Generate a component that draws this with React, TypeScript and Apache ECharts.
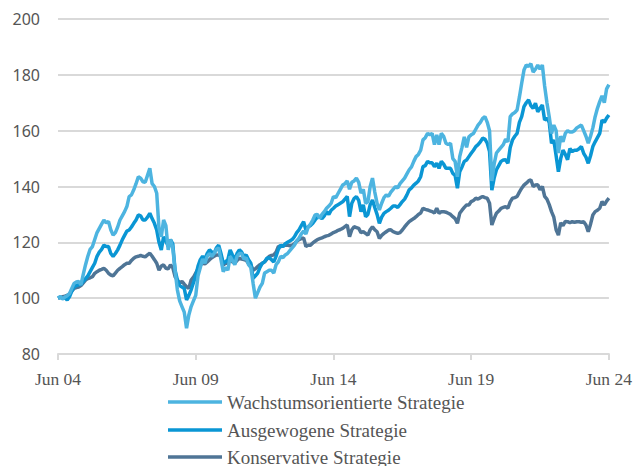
import React, { useEffect, useRef } from "react";
import * as echarts from "echarts";

// Monthly observations, Jun 2004 .. Jun 2024
const startYear = 2004;
const startMonth = 6;
const monthCount = 241;

const seriesNames = [
  "Wachstumsorientierte Strategie",
  "Ausgewogene Strategie",
  "Konservative Strategie",
];

const xTickLabels = ["Jun 04", "Jun 09", "Jun 14", "Jun 19", "Jun 24"];

const growth = [
  100, 100.6, 99.8, 100.4, 100.9, 101.6, 103.5,
  105.3, 105.8, 106, 104.8, 108.5, 112, 115, 117.5, 118.5, 121, 123.5, 125,
  126.5, 128, 127, 127.5, 124.5, 122.6, 123.5, 125.5, 128, 129.5, 131, 132.8,
  136.4, 137, 138.8, 141, 143.5, 143, 141.7, 141.5, 144, 146.5, 141, 140,
  137.6, 125, 122, 128, 126, 117.3, 121, 118, 110, 103, 99, 97,
  95, 89.2, 94, 97, 99, 101, 108, 111, 114, 112.5, 115, 116,
  115, 116, 117.5, 118, 113.8, 109.5, 111, 110, 115, 113.5, 112, 115,
  116, 116, 114, 114.5, 112, 111, 105.3, 100, 102, 104, 105.3, 109,
  109.5, 110, 110, 109, 112, 113, 115, 114.5, 115.5, 116, 117, 118,
  119, 120.5, 121.5, 123, 124, 123, 125.5, 126.5, 128, 129.8, 130, 128.6,
  130, 131, 132.2, 133, 134, 136.4, 136, 137.5, 139, 140.5, 141, 142,
  139, 141.5, 142, 143, 141.5, 137.6, 139, 134, 134.5, 140, 143, 138,
  134, 131.6, 134, 136, 137, 136.5, 138, 139, 140, 139.5, 141, 142,
  143, 144.5, 146, 147, 149, 150.7, 151.5, 153, 156.7, 157.5, 159, 158.5,
  159, 155, 158.5, 155, 159, 158, 155.5, 155, 155.5, 150, 149, 143.5,
  150.7, 154, 157.8, 154, 157.8, 158.5, 159, 160.5, 162, 163, 164.4, 165,
  163, 160, 142, 148, 152, 153, 154, 155, 157, 156, 165, 166,
  166.5, 167.4, 172, 177, 181.7, 183.5, 183, 184, 181, 182, 183.5, 182,
  183.5, 176, 170, 165, 159, 162, 160, 152, 158, 156, 159, 160,
  159.5, 159.5, 160, 161, 161.5, 162, 160, 158, 155.5, 158, 161, 165,
  168, 170.4, 172.5, 170, 175, 176.5,
];

const balanced = [
  100, 100.3, 99.8, 100.2, 99.3, 100.5, 102.5,
  104, 104.5, 104.8, 105, 106, 107, 108, 109.5, 111, 112.5, 115, 116.5,
  117.5, 119, 118.5, 118.5, 116, 115, 116, 117.3, 119, 120.9, 122.5, 124,
  124.4, 125.5, 126.8, 128, 129.8, 129.5, 128, 128, 129, 130.4, 128.5, 126.8,
  124.4, 120, 117.3, 122, 120.5, 118.6, 121, 119.5, 110, 106.5, 104.5, 104,
  103.5, 99.4, 101, 103, 105.5, 108, 111.5, 113.8, 115, 114, 116, 117.3,
  116.5, 116, 118, 119, 116, 112.5, 113, 113.8, 117.3, 115.5, 113.8, 116,
  117.3, 116.5, 115, 115.5, 113.8, 112.5, 107.1, 108, 109, 111, 112.5, 113,
  114.3, 114.5, 113.8, 113, 115, 117.5, 119, 118.5, 119.5, 120, 120.5, 121,
  122, 123.5, 124.5, 126, 127.4, 124.4, 125.5, 126, 126.8, 128, 129, 129.2,
  128.5, 129.5, 131, 130, 131.5, 132.2, 133, 133.5, 134, 134.5, 135.5, 136.4,
  129.2, 134, 135.7, 136.4, 135, 131, 133.4, 129.2, 130, 133.5, 135.2, 132.5,
  130, 126.8, 129, 130.4, 131, 131.5, 132.2, 133, 133, 132.5, 133.5, 134.6,
  135.5, 137, 138.8, 139.5, 140.5, 141.2, 142, 143.5, 147.1, 147.5, 149, 148.5,
  148.5, 147.1, 148.3, 146.5, 149, 148, 146.5, 146.5, 146.5, 144.7, 144, 139.4,
  145.3, 147, 149, 149.5, 150.7, 151.9, 153, 154.3, 155, 156, 157.3, 157,
  155.5, 152.5, 138.7, 143, 146, 147.5, 149, 149.5, 149.6, 148.3, 154, 156.7,
  158, 159, 163, 165, 168.6, 170, 171, 169, 168, 169.8, 166.8, 168,
  169.2, 163.8, 164.5, 163, 155.5, 156.7, 151, 145.3, 150, 153, 151.5, 149.6,
  153.6, 152.5, 153, 153, 153.5, 154.3, 151.9, 150.5, 148.3, 151, 154.3, 156,
  157.5, 159, 163.8, 163, 164.5, 165.6,
];

const conservative = [
  100, 100.3, 100.5, 100.7, 101, 101.5, 102.5,
  103.5, 103.8, 104, 104.5, 105.5, 106.5, 107, 107.3, 107.7, 108.9, 109.5, 110,
  110.3, 110.7, 110, 108.9, 108.3, 108, 109, 110, 110.7, 111.3, 112, 112.5,
  112.5, 113.5, 114.3, 114.8, 115, 115.3, 115, 114.8, 115.5, 116.1, 115, 113.8,
  112.5, 110, 111.5, 111.9, 110.7, 110.5, 111.9, 111, 107.7, 106.5, 105.5, 106,
  105, 104.1, 103.5, 106.5, 107.5, 109, 110.5, 111.9, 112.5, 112.3, 113, 113.8,
  114.5, 115, 115.5, 115.5, 115, 111.9, 112.5, 112.5, 113.8, 113, 112.5, 113.5,
  114.3, 114, 113.8, 113.5, 112.5, 112, 110, 110.5, 111.3, 112, 112.5, 113,
  114, 115, 115.3, 115.5, 116.5, 118.5, 118.5, 118.7, 119, 119, 118.8, 119,
  119.5, 120.4, 121, 121.3, 121.6, 118.5, 119, 119, 119.8, 120.4, 121, 121.3,
  121.6, 122, 122.3, 122.5, 123, 123.5, 123.8, 124.3, 124.6, 125, 125.6, 126.2,
  122, 124.5, 125.6, 125.3, 125, 123.5, 123.8, 123.2, 122.6, 124.5, 125.6, 124.5,
  123.8, 121.4, 122.5, 123.2, 123.8, 124.4, 124.5, 123.8, 123.5, 123.2, 123.5, 124.4,
  125.5, 126.5, 127.4, 128, 128.5, 129.2, 130, 130.5, 132.2, 131.8, 131.6, 131.3,
  131, 130.5, 132.2, 130.4, 131, 131, 130.8, 130.4, 130, 129.2, 128.5, 126.8,
  130.4, 131.5, 132.5, 133.4, 133.4, 134.6, 135, 135.8, 135.5, 136, 136.4, 136,
  135.8, 134, 126.2, 128.5, 130.4, 131.2, 132.2, 132.5, 132.8, 132.2, 134.5, 135.8,
  136, 136.4, 138, 139.4, 140.5, 141.2, 142, 142.4, 140, 140.5, 140.6, 138.8,
  140, 136.5, 135.5, 133.5, 131, 129, 124.5, 122.6, 127, 126, 127.5, 127.4,
  127, 127.4, 127.2, 127.4, 127.4, 127.2, 127.4, 126.2, 123.8, 126.5, 129.8, 131,
  131.5, 132.2, 134.6, 133.4, 134.8, 135.8,
];

const colors = ["#4db4e0", "#0a96d4", "#4f7596"];

const monthNames = ["Jan", "Feb", "Mar", "Apr", "May", "Jun", "Jul", "Aug", "Sep", "Oct", "Nov", "Dec"];

export default function App() {
  const ref = useRef<HTMLDivElement>(null);
  useEffect(() => {
    if (!ref.current) return;
    const chart = echarts.init(ref.current, undefined, { renderer: "svg" });
    const categories: string[] = [];
    for (let i = 0; i < monthCount; i++) {
      const m = (startMonth - 1 + i) % 12;
      const y = startYear + Math.floor((startMonth - 1 + i) / 12);
      categories.push(monthNames[m] + " " + String(y % 100).padStart(2, "0"));
    }
    const tickSet = new Set(xTickLabels);
    const data = [growth, balanced, conservative];
    const legendTops = [392, 420, 447];
    chart.setOption({
      animation: false,
      color: colors,
      grid: { left: 58, right: 26, top: 19, bottom: 112, containLabel: false },
      legend: seriesNames.map((name, k) => ({
        orient: "vertical",
        left: 168,
        top: legendTops[k],
        padding: 0,
        icon: "rect",
        itemWidth: 54,
        itemHeight: 3.5,
        data: [name],
        textStyle: {
          fontFamily: "Liberation Serif",
          fontSize: 19,
          color: "#555",
          lineHeight: 20,
        },
      })),
      xAxis: {
        type: "category",
        data: categories,
        boundaryGap: false,
        axisLine: { lineStyle: { color: "#d9d9d9", width: 2 } },
        axisTick: {
          interval: (_i: number, v: string) => tickSet.has(v),
          length: 6,
          lineStyle: { color: "#d9d9d9", width: 2 },
        },
        axisLabel: {
          interval: (_i: number, v: string) => tickSet.has(v),
          fontFamily: "Liberation Serif",
          fontSize: 17.5,
          color: "#555",
          margin: 16,
        },
        splitLine: { show: false },
      },
      yAxis: {
        type: "value",
        min: 80,
        max: 200,
        interval: 20,
        axisLine: { show: false },
        axisTick: { show: false },
        axisLabel: {
          fontFamily: "Noto Sans",
          fontSize: 16,
          color: "#555",
          margin: 18,
        },
        splitLine: { lineStyle: { color: "#d9d9d9", width: 2 } },
      },
      series: seriesNames.map((name, k) => ({
        name,
        type: "line",
        data: data[k],
        symbol: "none",
        lineStyle: { width: 3.5, color: colors[k] },
        itemStyle: { color: colors[k] },
        z: 3 - k,
      })),
    });
    return () => chart.dispose();
  }, []);
  return (
    <div
      ref={ref}
      style={{ position: "absolute", left: 0, top: 0, width: 635, height: 466 }}
    />
  );
}
